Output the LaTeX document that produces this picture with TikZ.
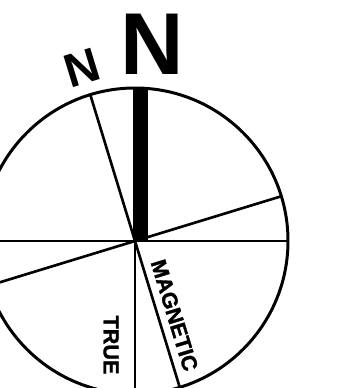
\documentclass[tikz,border=0pt]{standalone}
\usepackage{fontspec}
\setmainfont{Liberation Sans}
\newfontfamily\heavysans[FakeBold=1.5]{Liberation Sans Bold}
\usetikzlibrary{positioning, calc}
\tikzset{
    rim/.style={draw, line width=1.7pt},
    bearing line/.style={draw, line width=1.5pt},
    north bar/.style={fill=black},
    big letter/.style={inner sep=0pt, font=\fontsize{50}{50}\selectfont\bfseries},
    small letter/.style={inner sep=0pt, font=\fontsize{27}{27}\selectfont\bfseries},
    scale label/.style={inner sep=0pt, font=\fontsize{12.3}{12}\heavysans},
}
\newcommand{\magdecl}{17}

\begin{document}
\begin{tikzpicture}[x=0.02cm, y=0.02cm]
    \useasboundingbox (-135,-147) rectangle (203,241);
    \clip (-135,-147) rectangle (203,241);
    \coordinate (c) at (0,0);
    % points on the rim, true and magnetic
    \foreach \name/\ang in {te/0, tn/90, tw/180, ts/270} {
        \coordinate (\name) at (\ang:153);
    }
    \foreach \name/\ang in {mn/90, me/0, ms/270, mw/180} {
        \coordinate (\name) at (\ang+\magdecl:153);
    }
    \draw[rim] (c) circle (153);
    \draw[bearing line] (tw) -- (te);
    \draw[bearing line] (c) -- (ts);
    \draw[bearing line] (mn) -- (ms);
    \draw[bearing line] (mw) -- (me);
    \fill[north bar] ($(c)+(-2,0)$) rectangle ($(tn)+(13,0)$);
    % labels
    \node[big letter, anchor=base] (tnlabel) at (17,166) {N};
    \node[small letter, rotate=\magdecl] (mnlabel) at (-53,173) {N};
    \node[scale label, rotate=-90+\magdecl] (maglabel) at ($(c)!0.54!(ms)+(\magdecl:16)$) {MAGNETIC};
    \node[scale label, rotate=-90] (truelabel) at (-24,-104) {TRUE};
\end{tikzpicture}
\end{document}
